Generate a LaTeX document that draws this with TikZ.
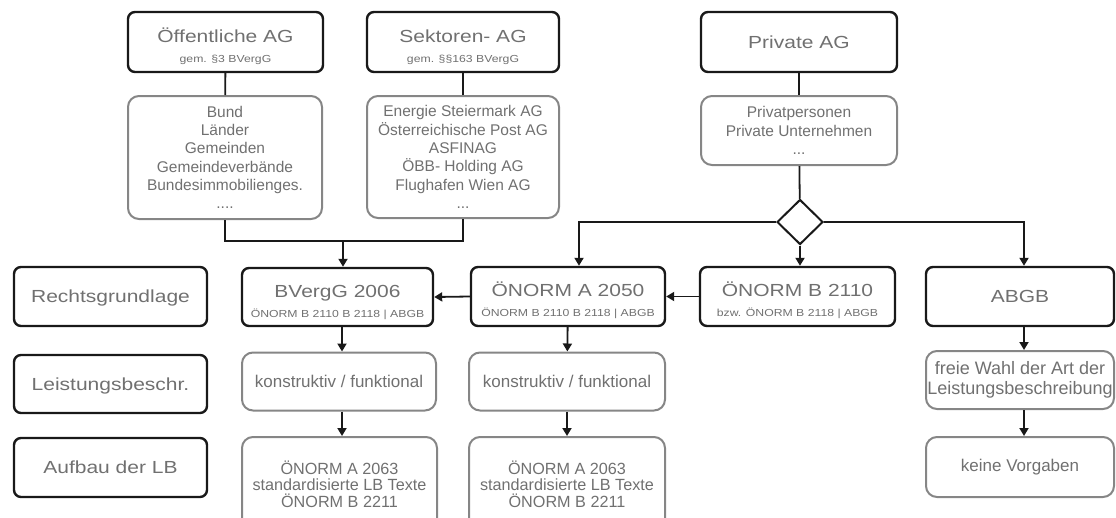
\documentclass[tikz,border=0pt]{standalone}
\usepackage{fontspec}
\setmainfont{Liberation Sans}
\newfontfamily\wideSans[FakeStretch=1.2]{Liberation Sans}
\usetikzlibrary{arrows.meta,shapes.geometric,calc}
\definecolor{txt}{HTML}{707070}
\definecolor{gbord}{HTML}{868686}
\newcommand\fTitle{\wideSans\fontsize{17.5}{20}\selectfont}
\newcommand\fSub{\wideSans\fontsize{10.2}{12}\selectfont}
\newcommand\fList{\fontsize{15.5}{18.3}\selectfont}
\newcommand\twoline[2]{\rule{0pt}{23pt}#1\\{\fSub #2}}
\begin{document}
\begin{tikzpicture}[x=1pt,y=-1pt,
  bk/.style={draw=black!90, line width=2.4pt, rounded corners=7pt, text=txt, align=center, inner sep=0pt, font=\fTitle},
  one/.style={text height=12.5pt, text depth=0pt},
  gr/.style={draw=gbord, line width=2pt, rounded corners=11pt, text=txt, align=center, inner sep=0pt},
  ln/.style={line width=1.8pt, draw=black!90},
  arr/.style={ln, -{Triangle[width=9pt,length=8pt]}}]
\useasboundingbox (0,0) rectangle (1116,517);
\clip (0,0) rectangle (1116,517);

% top row
\node[bk, minimum width=195pt, minimum height=60pt] (oeff) at (225.5,42) {\twoline{Öffentliche AG}{gem. §3 BVergG}};
\node[bk, minimum width=192pt, minimum height=60pt] (sekt) at (463,42) {\twoline{Sektoren- AG}{gem. §§163 BVergG}};
\node[bk, one, minimum width=196pt, minimum height=60pt] (priv) at (799,42) {Private AG};

% lists
\node[gr, minimum width=194pt, minimum height=123pt, font=\fList] (bund) at (225,157.5) {Bund\\Länder\\Gemeinden\\Gemeindeverbände\\Bundesimmobilienges.\\....};
\node[gr, minimum width=192pt, minimum height=122pt, font=\fList] (ener) at (463,157) {Energie Steiermark AG\\Österreichische Post AG\\ASFINAG\\ÖBB- Holding AG\\Flughafen Wien AG\\...};
\node[gr, minimum width=196pt, minimum height=69pt, font=\fList] (privp) at (799,130.5) {Privatpersonen\\Private Unternehmen\\...};

\node[diamond, draw=black!90, line width=2pt, minimum width=46pt, minimum height=45pt, inner sep=0pt, fill=white] (dia) at (800,222) {};

% left labels
\node[bk, one, minimum width=193pt, minimum height=59pt] (recht) at (110.5,296.5) {Rechtsgrundlage};
\node[bk, one, minimum width=193pt, minimum height=58pt] (leist) at (110.5,384) {Leistungsbeschr.};
\node[bk, one, minimum width=193pt, minimum height=59pt] (aufb) at (110.5,467.5) {Aufbau der LB};

% middle row
\node[bk, minimum width=191pt, minimum height=58pt] (bverg) at (337.5,297) {\twoline{BVergG 2006}{ÖNORM B 2110 B 2118 | ABGB}};
\node[bk, minimum width=194pt, minimum height=59pt] (a2050) at (568,296.5) {\twoline{ÖNORM A 2050}{ÖNORM B 2110 B 2118 | ABGB}};
\node[bk, minimum width=195pt, minimum height=59pt] (b2110) at (797.5,296.5) {\twoline{ÖNORM B 2110}{bzw. ÖNORM B 2118 | ABGB}};
\node[bk, one, minimum width=188pt, minimum height=59pt] (abgb) at (1020,296.5) {ABGB};

% lower rows
\node[gr, minimum width=194pt, minimum height=58pt, font=\fontsize{17}{20}\selectfont] (kon1) at (339,381.5) {konstruktiv / funktional};
\node[gr, minimum width=196pt, minimum height=58pt, font=\fontsize{17}{20}\selectfont] (kon2) at (567,381.5) {konstruktiv / funktional};
\node[gr, minimum width=188pt, minimum height=58pt, font=\fontsize{18}{20}\selectfont] (freie) at (1020,380) {freie Wahl der Art der\\Leistungsbeschreibung};

\node[gr, minimum width=195pt, minimum height=94pt, font=\fontsize{16.2}{16.5}\selectfont] (n1) at (339.5,484) {ÖNORM A 2063\\standardisierte LB Texte\\ÖNORM B 2211};
\node[gr, minimum width=196pt, minimum height=94pt, font=\fontsize{16.2}{16.5}\selectfont] (n2) at (567,484) {ÖNORM A 2063\\standardisierte LB Texte\\ÖNORM B 2211};
\node[gr, minimum width=188pt, minimum height=60pt, font=\fontsize{17}{20}\selectfont] (keine) at (1020,467) {keine Vorgaben};

% connectors top-left
\coordinate (jy) at (343,241);
\draw[ln] (oeff) -- (bund);
\draw[ln] (sekt) -- (ener);
\draw[ln] (bund.south) |- (jy) -| (ener.south);
\draw[arr] (jy) -- (jy |- bverg.north);

% private branch
\draw[ln] (priv) -- (privp);
\draw[ln] (privp) -- (dia);
\coordinate (dl) at (579,222);
\coordinate (dr) at (1024,222);
\draw[arr] (dia.west) -- (dl) -- (dl |- a2050.north);
\draw[arr] (dia.east) -- (dr) -- (dr |- abgb.north);
\draw[arr] (dia.south) -- (dia.south |- b2110.north);

% horizontal arrows
\draw[arr] (b2110.west) -- (a2050.east);
\draw[arr] (a2050.west) -- (bverg.east);

% vertical arrows
\draw[arr] (bverg.south -| 342,0) -- (kon1.north -| 342,0);
\draw[arr] (kon1.south -| 342,0) -- (n1.north -| 342,0);
\draw[arr] (a2050) -- (kon2);
\draw[arr] (kon2) -- (n2);
\draw[arr] (abgb.south -| dr) -- (freie.north -| dr);
\draw[arr] (freie.south -| dr) -- (keine.north -| dr);
\end{tikzpicture}
\end{document}
